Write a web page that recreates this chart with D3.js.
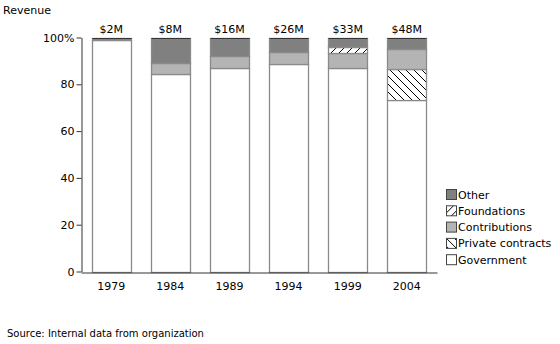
<!DOCTYPE html>
<html>
<head>
<meta charset="utf-8">
<script src="https://cdn.jsdelivr.net/npm/d3@7"></script>
<style>
  body { margin: 0; background: #fff; }
  svg { font-family: "DejaVu Sans", Verdana, sans-serif; font-size: 11px; }
</style>
</head>
<body>
<script>
// revenue mix by year, in percent of total
const years = ["1979", "1984", "1989", "1994", "1999", "2004"];
const totals = ["$2M", "$8M", "$16M", "$26M", "$33M", "$48M"];
const government = [99, 84.3, 87, 88.6, 86.9, 73.5];
const privateContracts = [0, 0, 0, 0, 0, 13];
const contributions = [0, 4.7, 4.9, 5.4, 6.4, 8.5];
const foundations = [0, 0, 0, 0, 2.6, 0];
const other = [1, 11, 8.1, 6, 4.1, 5];
const yTicks = [0, 20, 40, 60, 80, 100];

// stacking order, bottom to top
const seriesNames = ["Government", "Private contracts", "Contributions", "Foundations", "Other"];
const seriesValues = [government, privateContracts, contributions, foundations, other];

const width = 560, height = 344;

const svg = d3.select("body")
  .append("svg")
  .attr("width", width)
  .attr("height", height);

const defs = svg.append("defs");

// "\" hatch for private contracts
const pBack = defs.append("pattern")
  .attr("id", "hatch-back")
  .attr("patternUnits", "userSpaceOnUse")
  .attr("width", 8).attr("height", 8);
pBack.append("rect").attr("width", 8).attr("height", 8).attr("fill", "#fff");
pBack.append("path")
  .attr("d", "M-2,-2 L10,10 M-2,6 L2,10 M6,-2 L10,2")
  .attr("stroke", "#000").attr("stroke-width", 1);

// "/" hatch for foundations
const pFwd = defs.append("pattern")
  .attr("id", "hatch-fwd")
  .attr("patternUnits", "userSpaceOnUse")
  .attr("width", 8).attr("height", 8);
pFwd.append("rect").attr("width", 8).attr("height", 8).attr("fill", "#fff");
pFwd.append("path")
  .attr("d", "M-2,10 L10,-2 M-2,2 L2,-2 M6,10 L10,6")
  .attr("stroke", "#000").attr("stroke-width", 1);

const fills = {
  "Government": "#ffffff",
  "Private contracts": "url(#hatch-back)",
  "Contributions": "#b4b4b4",
  "Foundations": "url(#hatch-fwd)",
  "Other": "#808080"
};

const x = d3.scaleBand()
  .domain(years)
  .range([81, 437])
  .paddingInner(0.34)
  .paddingOuter(0.18);

const y = d3.scaleLinear()
  .domain([0, 100])
  .range([271.5, 37.5]);

// build table for d3.stack
const table = years.map((yr, i) => {
  const row = { year: yr };
  seriesNames.forEach((s, j) => { row[s] = seriesValues[j][i]; });
  return row;
});

const stacked = d3.stack().keys(seriesNames)(table);

const bx = d => Math.round(x(d.data.year)) + 0.5;
const bw = Math.round(x.bandwidth());

const layers = svg.append("g")
  .selectAll("g")
  .data(stacked)
  .join("g")
    .attr("fill", d => fills[d.key]);

// segments with light side edges
layers.selectAll("rect")
  .data(d => d.filter(p => p[1] - p[0] > 0))
  .join("rect")
    .attr("x", bx)
    .attr("width", bw)
    .attr("y", d => Math.round(y(d[1])) + 0.5)
    .attr("height", d => Math.round(y(d[0])) - Math.round(y(d[1])))
    .attr("stroke", "#8a8a8a")
    .attr("stroke-width", 1.3);

// dark divider at the top of each segment
layers.selectAll("line")
  .data(d => d.filter(p => p[1] - p[0] > 0))
  .join("line")
    .attr("x1", bx)
    .attr("x2", d => bx(d) + bw)
    .attr("y1", d => Math.round(y(d[1])) + 0.5)
    .attr("y2", d => Math.round(y(d[1])) + 0.5)
    .attr("stroke", "#333")
    .attr("stroke-width", 1.2);

// y axis
const yAxis = svg.append("g")
  .attr("transform", "translate(81.5,0)")
  .call(d3.axisLeft(y)
    .tickValues(yTicks)
    .tickSize(5)
    .tickSizeOuter(0)
    .tickFormat(d => d === 100 ? "100%" : d));
yAxis.select(".domain").attr("stroke", "#333");
yAxis.selectAll(".tick line").attr("stroke", "#333");
yAxis.selectAll(".tick text")
  .attr("x", -7)
  .attr("fill", "#000")
  .style("font-family", "DejaVu Sans, Verdana, sans-serif")
  .style("font-size", "11px");

// x axis, baseline only
const xAxis = svg.append("g")
  .attr("transform", "translate(0," + (Math.round(y(0)) + 0.5) + ")")
  .call(d3.axisBottom(x).tickSize(0).tickSizeOuter(0));
xAxis.select(".domain").attr("stroke", "#333");
xAxis.selectAll(".tick text")
  .attr("y", 10)
  .attr("fill", "#000")
  .style("font-family", "DejaVu Sans, Verdana, sans-serif")
  .style("font-size", "11px");

// total revenue above each bar
svg.append("g")
  .selectAll("text")
  .data(years)
  .join("text")
    .attr("x", d => x(d) + x.bandwidth() / 2)
    .attr("y", 33)
    .attr("text-anchor", "middle")
    .text((d, i) => totals[i]);

svg.append("text")
  .attr("x", 3)
  .attr("y", 14)
  .text("Revenue");

// legend, top entry is the top of the stack
const legendItems = seriesNames.slice().reverse();
const legend = svg.append("g")
  .selectAll("g")
  .data(legendItems)
  .join("g")
    .attr("transform", (d, i) => "translate(446," + (189 + i * 16.3) + ")");

legend.append("rect")
  .attr("x", 0.5).attr("y", 0.5)
  .attr("width", 10).attr("height", 10)
  .attr("fill", d => fills[d])
  .attr("stroke", "#444");

legend.append("text")
  .attr("x", 12)
  .attr("y", 9.5)
  .text(d => d);

svg.append("text")
  .attr("x", 7)
  .attr("y", 337)
  .attr("font-size", "10px")
  .text("Source: Internal data from organization");
</script>
</body>
</html>
